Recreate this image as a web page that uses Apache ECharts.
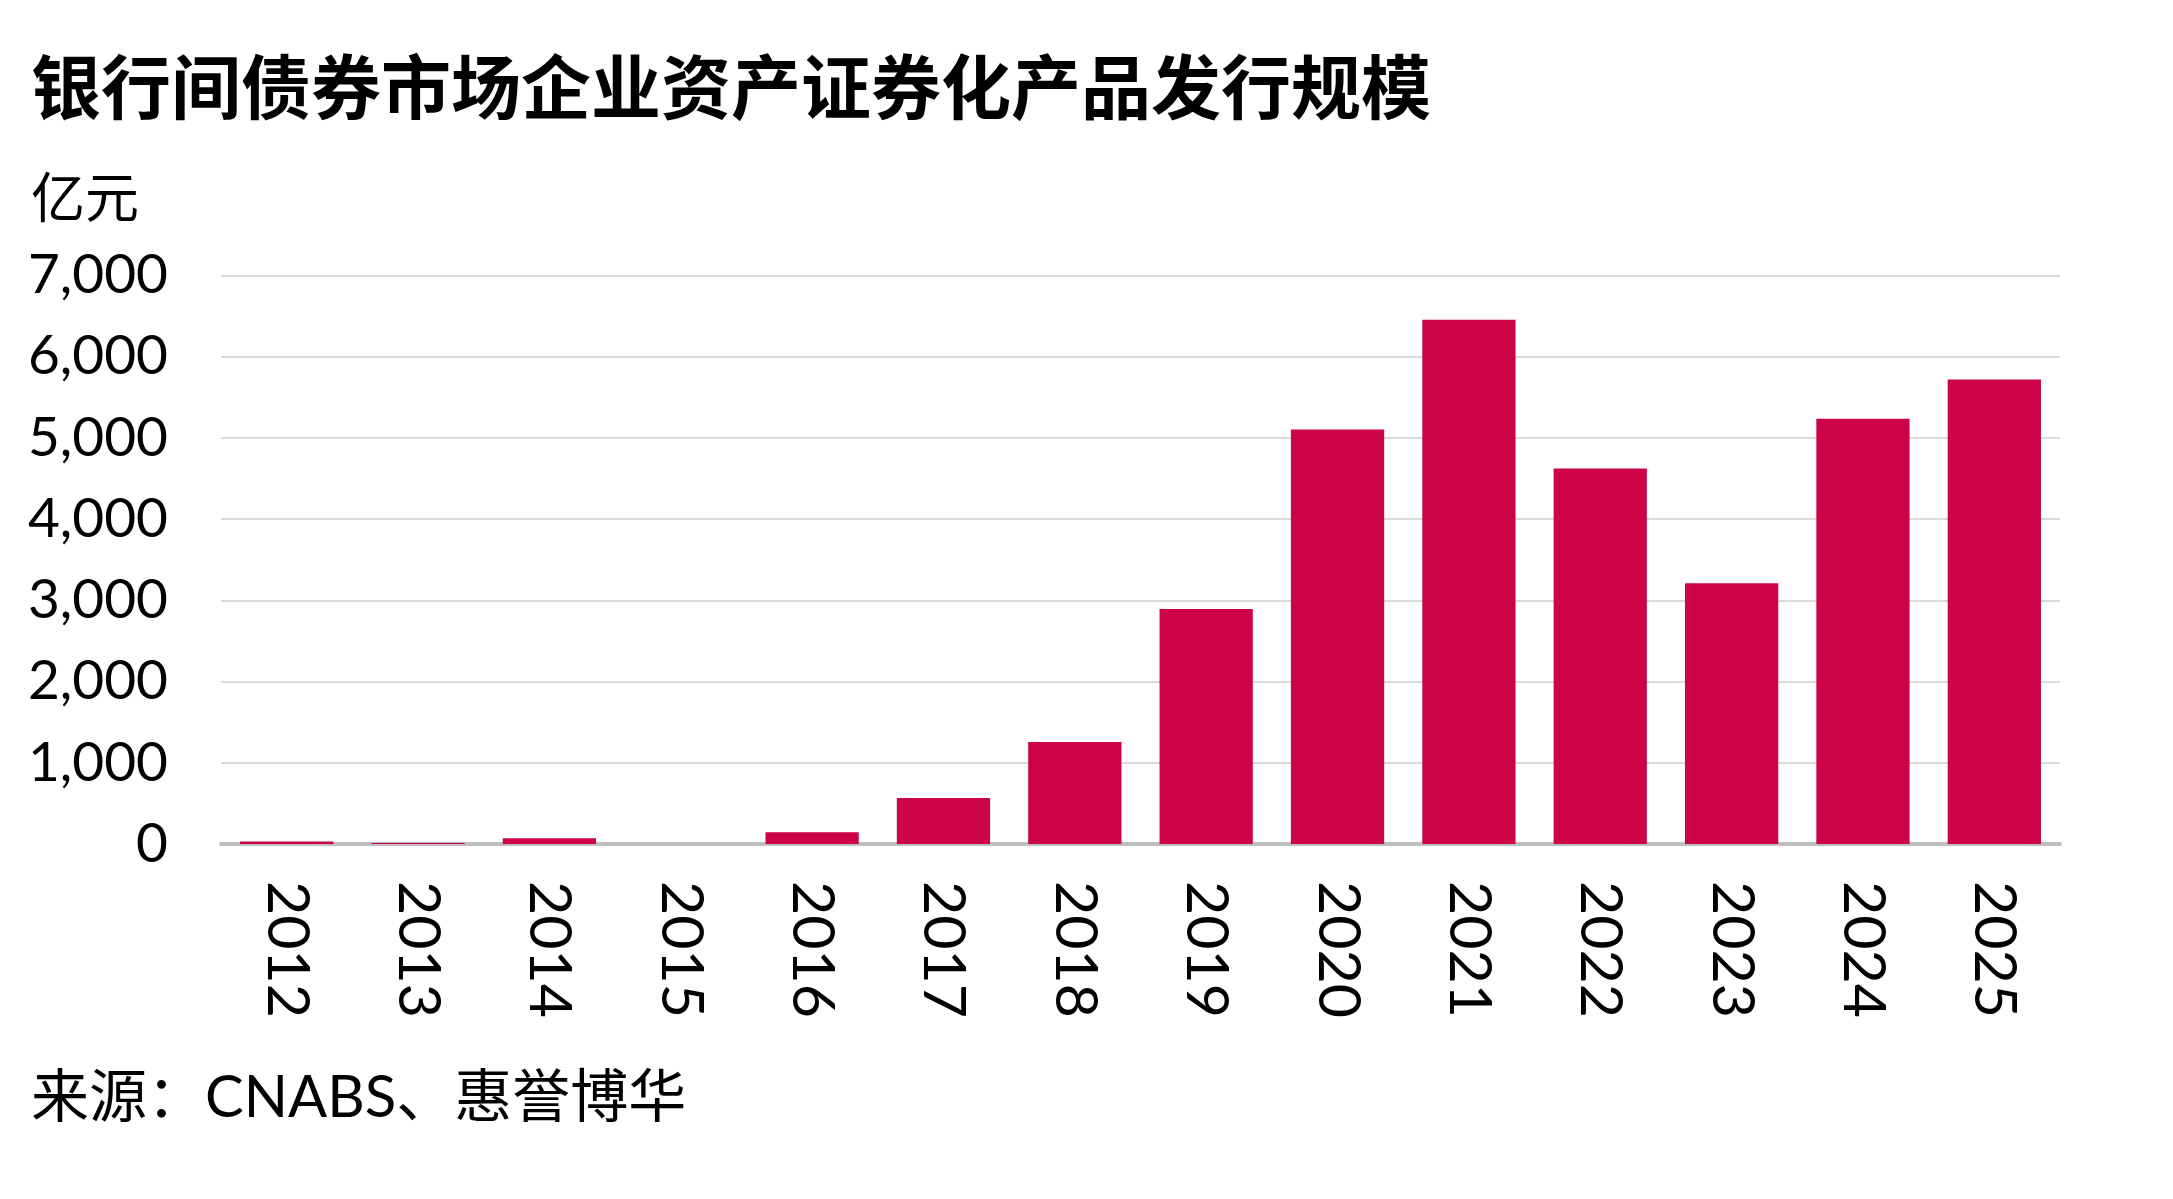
<!DOCTYPE html>
<html>
<head>
<meta charset="utf-8">
<script src="https://cdn.jsdelivr.net/npm/echarts@6/dist/echarts.min.js"></script>
<style>
html,body{margin:0;padding:0;background:#fff;}
#chart{width:2173px;height:1199px;}
</style>
</head>
<body>
<div id="chart"></div>
<script>
const titleText = '银行间债券市场企业资产证券化产品发行规模';
const unitText = '亿元';
const sourceText = '来源：CNABS、惠誉博华';
const categories = ['2012','2013','2014','2015','2016','2017','2018','2019','2020','2021','2022','2023','2024','2025'];
const issuance = [30, 12, 70, 0, 145, 565, 1255, 2895, 5105, 6455, 4625, 3210, 5235, 5720];
const yTicks = [0, 1000, 2000, 3000, 4000, 5000, 6000, 7000];

const FONT = "Lato, 'Noto Sans CJK SC', sans-serif";
const chart = echarts.init(document.getElementById('chart'));
chart.setOption({
  backgroundColor: '#ffffff',
  animation: false,
  title: [
    { text: titleText, left: 31, top: 52, padding: 0,
      textStyle: { fontFamily: "'Noto Sans CJK SC', sans-serif", fontSize: 70, fontWeight: 'bold', color: '#000' } },
    { text: unitText, left: 31, top: 170, padding: 0,
      textStyle: { fontFamily: "'Noto Sans CJK SC', sans-serif", fontSize: 54, fontWeight: 'normal', color: '#000' } },
    { text: sourceText, left: 31, top: 1069, padding: 0,
      textStyle: { fontFamily: FONT, fontSize: 58, fontWeight: 'normal', color: '#000' } }
  ],
  grid: { left: 221, right: 113, top: 275.5, bottom: 355, containLabel: false },
  xAxis: {
    type: 'category',
    data: categories,
    axisTick: { show: false },
    axisLine: { show: true, lineStyle: { color: '#bfbfbf', width: 4 } },
    axisLabel: { rotate: -90, margin: 37, fontSize: 59, fontFamily: FONT, color: '#000' }
  },
  yAxis: {
    type: 'value',
    min: yTicks[0],
    max: yTicks[yTicks.length - 1],
    interval: 1000,
    axisLine: { show: false },
    axisTick: { show: false },
    splitLine: { show: true, lineStyle: { color: '#d9d9d9', width: 2 } },
    axisLabel: {
      margin: 53, fontSize: 55, fontFamily: FONT, color: '#000',
      formatter: v => v.toString().replace(/\B(?=(\d{3})+(?!\d))/g, ',')
    }
  },
  series: [{
    type: 'bar',
    data: issuance,
    barCategoryGap: '29%',
    itemStyle: { color: '#cc0446' },
    z: 2
  }]
});
</script>
</body>
</html>
